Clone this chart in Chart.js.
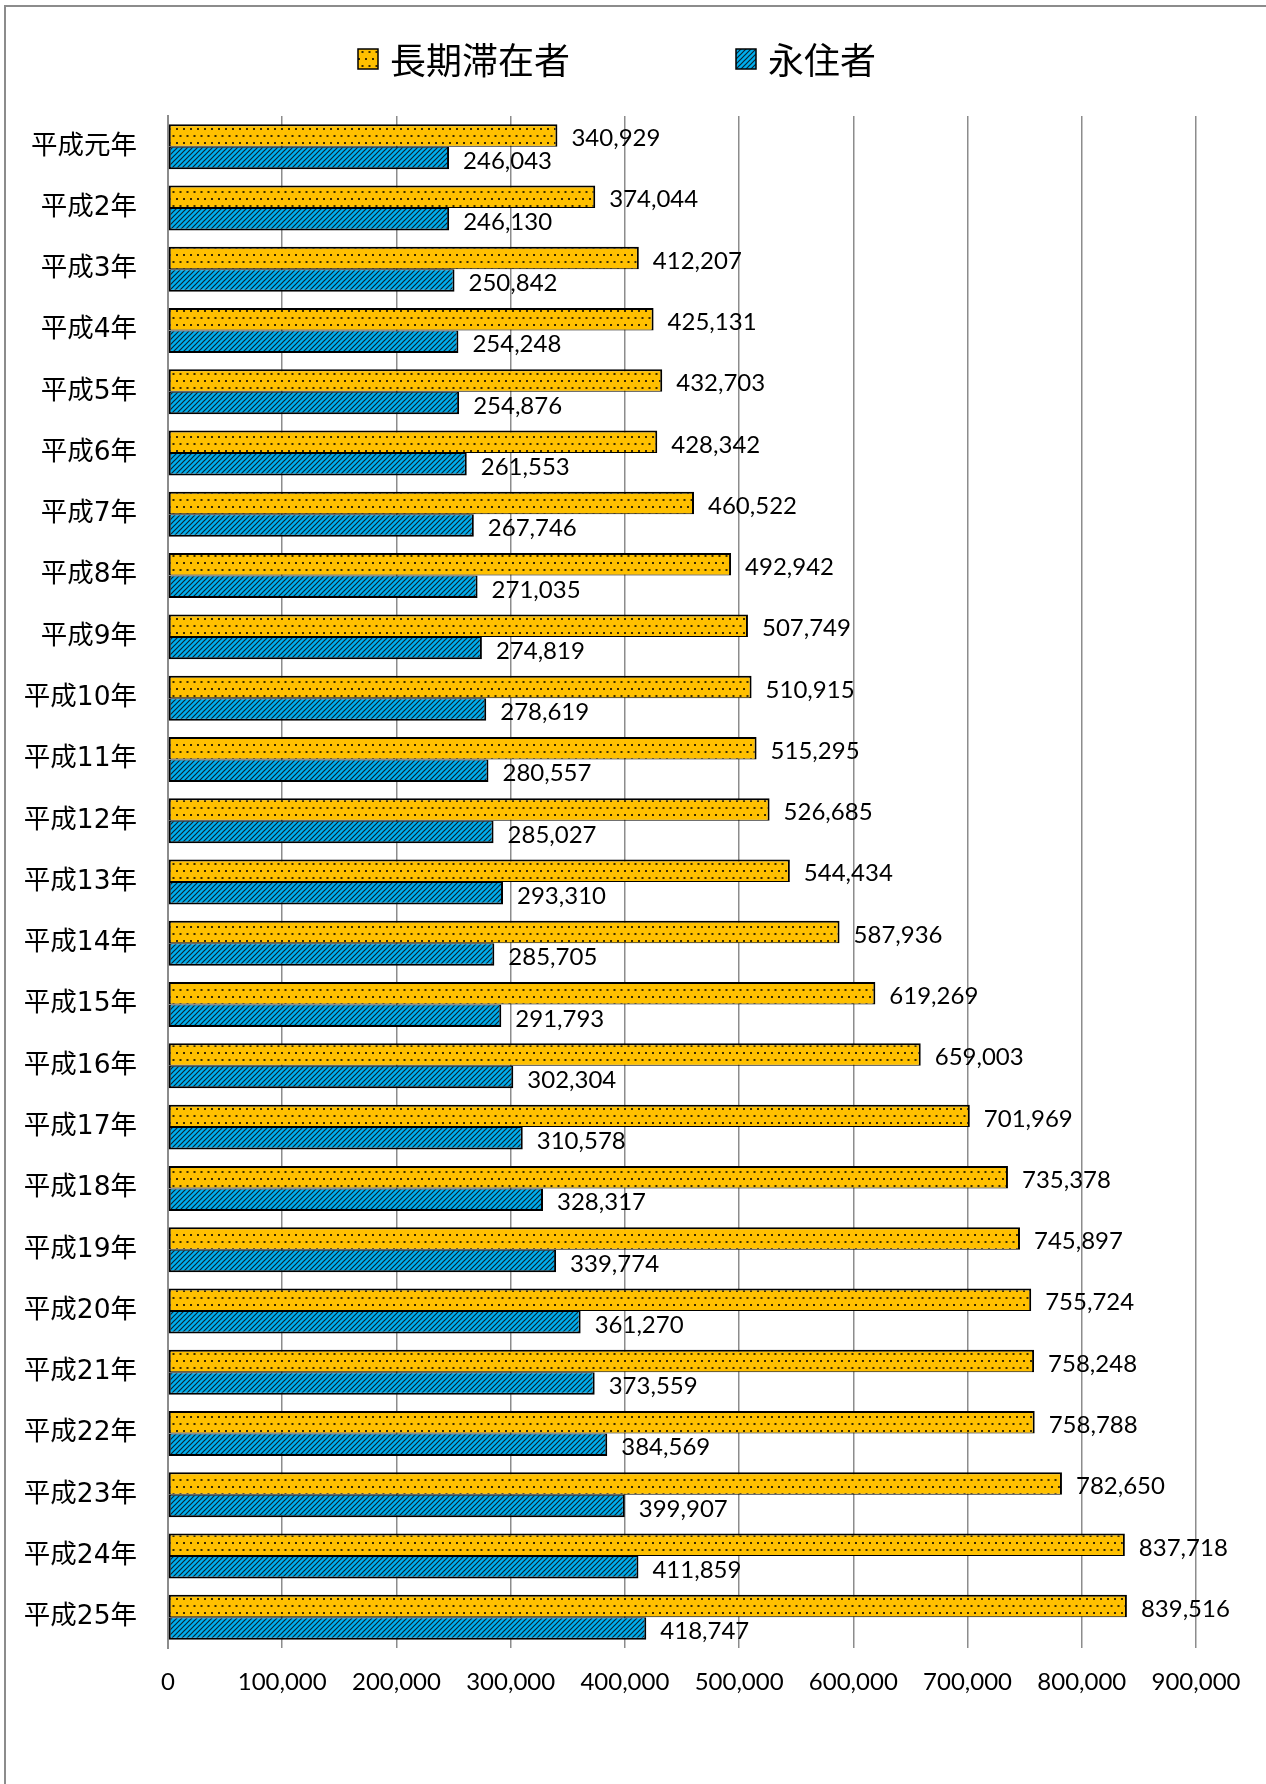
<!DOCTYPE html>
<html lang="ja">
<head>
<meta charset="utf-8">
<title>長期滞在者と永住者</title>
<script src="https://cdn.jsdelivr.net/npm/chart.js@4.4.1/dist/chart.umd.min.js"></script>
<style>
  html, body { margin: 0; padding: 0; background: #fff; }
  body { width: 1266px; height: 1784px; overflow: hidden; position: relative; }
  #frame { position: absolute; left: 4px; top: 5px; width: 1400px; height: 1900px;
           border-top: 2px solid #8c8c8c; border-left: 2px solid #8c8c8c; }
  #wrap { position: absolute; left: 0; top: 0; width: 1266px; height: 1784px; }
</style>
</head>
<body>
<div id="frame"></div>
<div id="wrap"><canvas id="stayChart" width="1266" height="1784"></canvas></div>
<script>
// years (Heisei 1 .. 25)
const years = [
  '平成元年', '平成2年', '平成3年', '平成4年', '平成5年', '平成6年', '平成7年',
  '平成8年', '平成9年', '平成10年', '平成11年', '平成12年', '平成13年', '平成14年',
  '平成15年', '平成16年', '平成17年', '平成18年', '平成19年', '平成20年', '平成21年',
  '平成22年', '平成23年', '平成24年', '平成25年'
];
const longTermStay = [
  340929, 374044, 412207, 425131, 432703, 428342, 460522, 492942, 507749, 510915,
  515295, 526685, 544434, 587936, 619269, 659003, 701969, 735378, 745897, 755724,
  758248, 758788, 782650, 837718, 839516
];
const permanentRes = [
  246043, 246130, 250842, 254248, 254876, 261553, 267746, 271035, 274819, 278619,
  280557, 285027, 293310, 285705, 291793, 302304, 310578, 328317, 339774, 361270,
  373559, 384569, 399907, 411859, 418747
];
const seriesNames = ['長期滞在者', '永住者'];
const xMin = 0, xMax = 900000, xStep = 100000;

const jpFont = '"Noto Sans CJK JP", "Noto Sans", sans-serif';
const catFont = '"DejaVu Sans", "Noto Sans CJK JP", sans-serif';
const numFont = 'Lato, "Noto Sans", sans-serif';

function dotPattern() {
  const c = document.createElement('canvas');
  c.width = 7; c.height = 14;
  const g = c.getContext('2d');
  g.fillStyle = '#FFC000';
  g.fillRect(0, 0, 7, 14);
  g.fillStyle = '#3b2c00';
  g.fillRect(1, 2, 2, 2);
  g.fillRect(4.5, 9, 2, 2);
  return g.createPattern(c, 'repeat');
}

function hatchPattern() {
  const s = 5;
  const c = document.createElement('canvas');
  c.width = s; c.height = s;
  const g = c.getContext('2d');
  g.fillStyle = '#00AEEE';
  g.fillRect(0, 0, s, s);
  g.strokeStyle = '#0a2533';
  g.lineWidth = 1.2;
  g.beginPath();
  g.moveTo(-1, s + 1); g.lineTo(s + 1, -1);
  g.moveTo(-s, s); g.lineTo(s, -s);
  g.moveTo(0, 2 * s); g.lineTo(2 * s, 0);
  g.stroke();
  return g.createPattern(c, 'repeat');
}

const fills = [dotPattern(), hatchPattern()];

// numbers at the end of each bar
const valueLabels = {
  id: 'valueLabels',
  afterDatasetsDraw(chart) {
    const ctx = chart.ctx;
    ctx.save();
    ctx.font = '24px ' + numFont;
    ctx.fillStyle = '#000';
    ctx.textAlign = 'left';
    ctx.textBaseline = 'middle';
    chart.data.datasets.forEach((ds, i) => {
      chart.getDatasetMeta(i).data.forEach((bar, j) => {
        ctx.fillText(ds.data[j].toLocaleString('en-US'), bar.x + 14, bar.y + 3);
      });
    });
    ctx.restore();
  }
};

// legend row at the top, placed like the original sheet
const topLegend = {
  id: 'topLegend',
  afterDraw(chart) {
    const ctx = chart.ctx;
    const box = 20, textGap = 12, itemGap = 166;
    const centerX = 617, midY = 59;
    ctx.save();
    ctx.font = '36px ' + jpFont;
    ctx.textBaseline = 'middle';
    ctx.textAlign = 'left';
    const items = chart.data.datasets.map(ds => ({
      text: ds.label, fill: ds.backgroundColor, w: ctx.measureText(ds.label).width
    }));
    let total = items.reduce((s, it) => s + box + textGap + it.w, 0) + itemGap * (items.length - 1);
    let x = centerX - total / 2;
    items.forEach(it => {
      ctx.fillStyle = it.fill;
      ctx.fillRect(x, midY - box / 2, box, box);
      ctx.strokeStyle = '#000';
      ctx.lineWidth = 1.5;
      ctx.strokeRect(x, midY - box / 2, box, box);
      ctx.fillStyle = '#000';
      ctx.fillText(it.text, x + box + textGap, midY + 1);
      x += box + textGap + it.w + itemGap;
    });
    ctx.restore();
  }
};

const ctx = document.getElementById('stayChart').getContext('2d');

new Chart(ctx, {
  type: 'bar',
  data: {
    labels: years,
    datasets: [
      {
        label: seriesNames[0],
        data: longTermStay,
        backgroundColor: fills[0],
        borderColor: '#000',
        borderWidth: { top: 2, right: 2, bottom: 1, left: 2 },
        borderSkipped: false
      },
      {
        label: seriesNames[1],
        data: permanentRes,
        backgroundColor: fills[1],
        borderColor: '#000',
        borderWidth: { top: 1, right: 2, bottom: 2, left: 2 },
        borderSkipped: false
      }
    ]
  },
  options: {
    indexAxis: 'y',
    responsive: false,
    animation: false,
    categoryPercentage: 0.734,
    barPercentage: 1,
    layout: { padding: { top: 116, right: 70, left: 0, bottom: 0 } },
    plugins: {
      legend: { display: false },
      tooltip: { enabled: false }
    },
    scales: {
      x: {
        min: xMin,
        max: xMax,
        ticks: {
          stepSize: xStep,
          color: '#000',
          padding: 20,
          font: { family: numFont, size: 24 },
          callback: v => v.toLocaleString('en-US')
        },
        grid: { color: '#8c8c8c', lineWidth: 1.5, drawTicks: false },
        border: { display: false },
        afterFit: scale => { scale.height = 136; }
      },
      y: {
        ticks: {
          color: '#000',
          padding: 31,
          font: { family: catFont, size: 26.5 }
        },
        grid: { display: false, drawTicks: false },
        border: { color: '#8c8c8c', width: 2 },
        afterFit: scale => { scale.width = 168; }
      }
    }
  },
  plugins: [valueLabels, topLegend]
});
</script>
</body>
</html>
